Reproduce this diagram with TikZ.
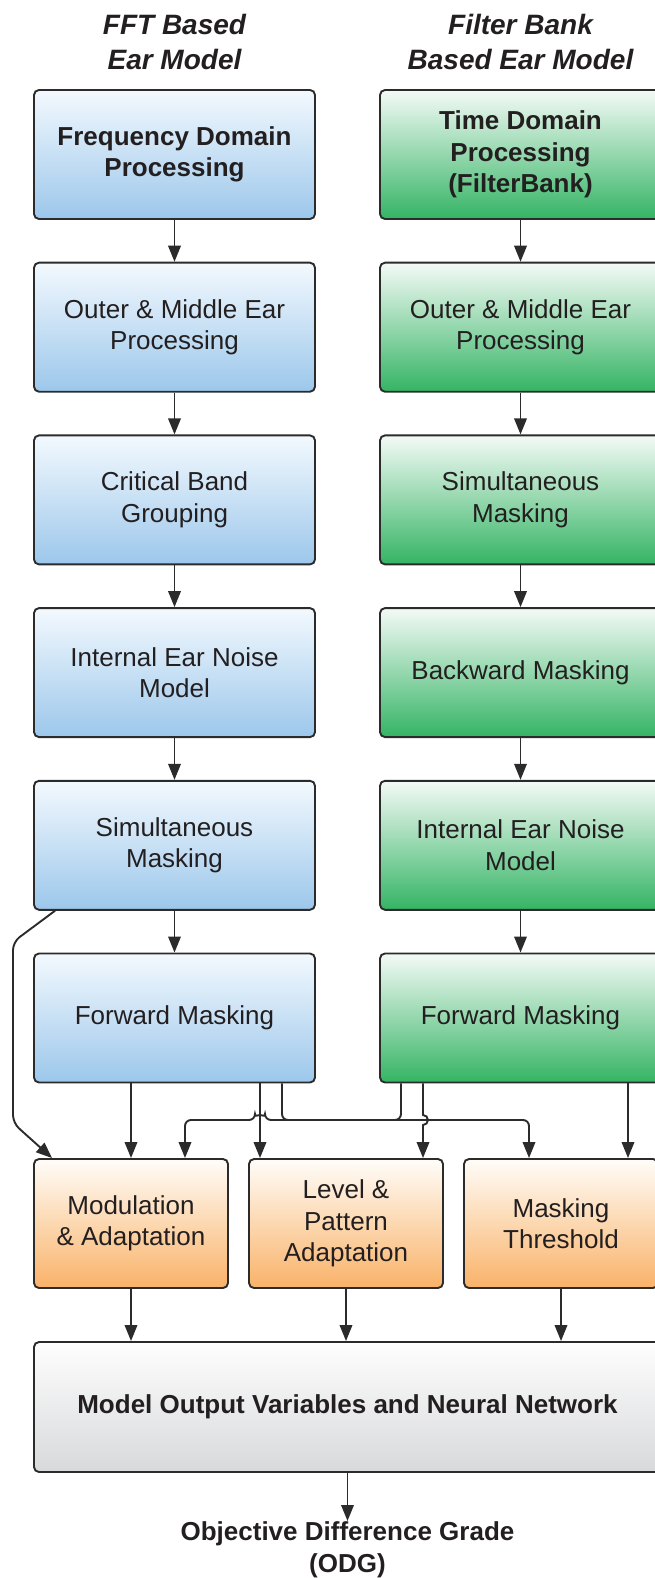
\documentclass[tikz,border=0pt]{standalone}
\usepackage{fontspec}
\setmainfont{Liberation Sans}
\usetikzlibrary{arrows.meta,calc}
\definecolor{txt}{HTML}{231F20}
\definecolor{boxline}{HTML}{2B2B2B}
\definecolor{bluetop}{HTML}{F3F9FE}
\definecolor{bluebot}{HTML}{9CC7EB}
\definecolor{greentop}{HTML}{F4FAF6}
\definecolor{greenbot}{HTML}{34B464}
\definecolor{orangetop}{HTML}{FFFDF9}
\definecolor{orangebot}{HTML}{F9B268}
\definecolor{graytop}{HTML}{FEFEFE}
\definecolor{graybot}{HTML}{D8D9DB}
\begin{document}
\begin{tikzpicture}[x=1pt,y=1pt,
  basebox/.style={draw=boxline, line width=1.9pt, rounded corners=5pt, align=center,
    text=txt, font=\fontsize{26}{31.5}\selectfont, inner sep=0pt},
  colbox/.style={basebox, minimum width=281pt, minimum height=129pt},
  fftbox/.style={colbox, top color=bluetop, bottom color=bluebot},
  fbbox/.style={colbox, top color=greentop, bottom color=greenbot},
  orbox/.style={basebox, minimum width=194pt, minimum height=129pt, top color=orangetop, bottom color=orangebot},
  outbox/.style={basebox, minimum width=627pt, minimum height=130pt, top color=graytop, bottom color=graybot},
  title/.style={text=txt, font=\fontsize{28}{35}\selectfont\bfseries\itshape, align=center, inner sep=0pt, anchor=north},
  arr/.style={draw=boxline, line width=1.9pt, -{Triangle[length=16pt,width=12.5pt]}}
]
\useasboundingbox (0,0) rectangle (655,-1578);

% titles
\node[title] (t1) at (174.5,-14) {FFT Based\\Ear Model};
\node[title] (t2) at (520.5,-14) {Filter Bank\\Based Ear Model};

% FFT column
\node[fftbox] (f1) at (174.5,-154.5) {\bfseries Frequency Domain\\\bfseries Processing};
\node[fftbox] (f2) at (174.5,-327.2) {Outer \& Middle Ear\\Processing};
\node[fftbox] (f3) at (174.5,-499.9) {Critical Band\\Grouping};
\node[fftbox] (f4) at (174.5,-672.6) {Internal Ear Noise\\Model};
\node[fftbox] (f5) at (174.5,-845.3) {Simultaneous\\Masking};
\node[fftbox] (f6) at (174.5,-1018) {Forward Masking};

% Filter bank column
\node[fbbox] (g1) at (520.5,-154.5) {\bfseries Time Domain\\\bfseries Processing\\\bfseries (FilterBank)};
\node[fbbox] (g2) at (520.5,-327.2) {Outer \& Middle Ear\\Processing};
\node[fbbox] (g3) at (520.5,-499.9) {Simultaneous\\Masking};
\node[fbbox] (g4) at (520.5,-672.6) {Backward Masking};
\node[fbbox] (g5) at (520.5,-845.3) {Internal Ear Noise\\Model};
\node[fbbox] (g6) at (520.5,-1018) {Forward Masking};

% orange row
\node[orbox] (mod) at (131,-1223.5) {Modulation\\\& Adaptation};
\node[orbox] (lev) at (346,-1223.5) {Level \&\\Pattern\\Adaptation};
\node[orbox] (mask) at (561,-1223.5) {Masking\\Threshold};

% output
\node[outbox] (out) at (347.5,-1407) {\bfseries Model Output Variables and Neural Network};
\node[text=txt, font=\fontsize{26}{32}\selectfont\bfseries, align=center, inner sep=0pt, anchor=north]
  (odg) at (347.5,-1521) {Objective Difference Grade\\(ODG)};

% vertical chains
\foreach \a/\b in {f1/f2,f2/f3,f3/f4,f4/f5,f5/f6,g1/g2,g2/g3,g3/g4,g4/g5,g5/g6}
  \draw[arr] (\a.south) -- (\b.north);

% helper coordinates
\coordinate (hy) at (0,-1120);
\coordinate (xB) at (185,0);
\coordinate (xC) at (260,0);
\coordinate (xD) at (282,0);
\coordinate (xE) at (401,0);
\coordinate (xF) at (423,0);
\coordinate (xG) at (529,0);
\coordinate (xH) at (628,0);
\coordinate (xS) at (55,0);
\coordinate (k1) at (13,-942);
\coordinate (k2) at (13,-1123);

% left bypass from FFT simultaneous masking
\draw[arr, rounded corners=8pt] (f5.south -| xS) -- (k1) -- (k2) -- ($(mod.north west)+(19,0)$);

% FFT forward masking outputs
\draw[arr] (f6.south -| mod.north) -- (mod.north);
\draw[arr] (f6.south -| xC) -- (lev.north -| xC);
\draw[arr, rounded corners=6pt] (f6.south -| xD) -- (xD |- hy) -- (xG |- hy) -- (mask.north -| xG);

% Filter bank forward masking outputs
\draw[arr, rounded corners=6pt] (g6.south -| xE) -- (xE |- hy) -- ($(xC |- hy)+(5,0)$)
   arc[start angle=0, end angle=180, radius=5] -- (xB |- hy) -- (mod.north -| xB);
\draw[arr] (g6.south -| xF) -- ($(xF |- hy)+(0,5)$) arc[start angle=90, end angle=-90, radius=5] -- (lev.north -| xF);
\draw[arr] (g6.south -| xH) -- (mask.north -| xH);

% to output
\draw[arr] (mod.south) -- (out.north -| mod.south);
\draw[arr] (lev.south) -- (out.north -| lev.south);
\draw[arr] (mask.south) -- (out.north -| mask.south);
\draw[arr] (out.south) -- (odg.north);
\end{tikzpicture}
\end{document}
